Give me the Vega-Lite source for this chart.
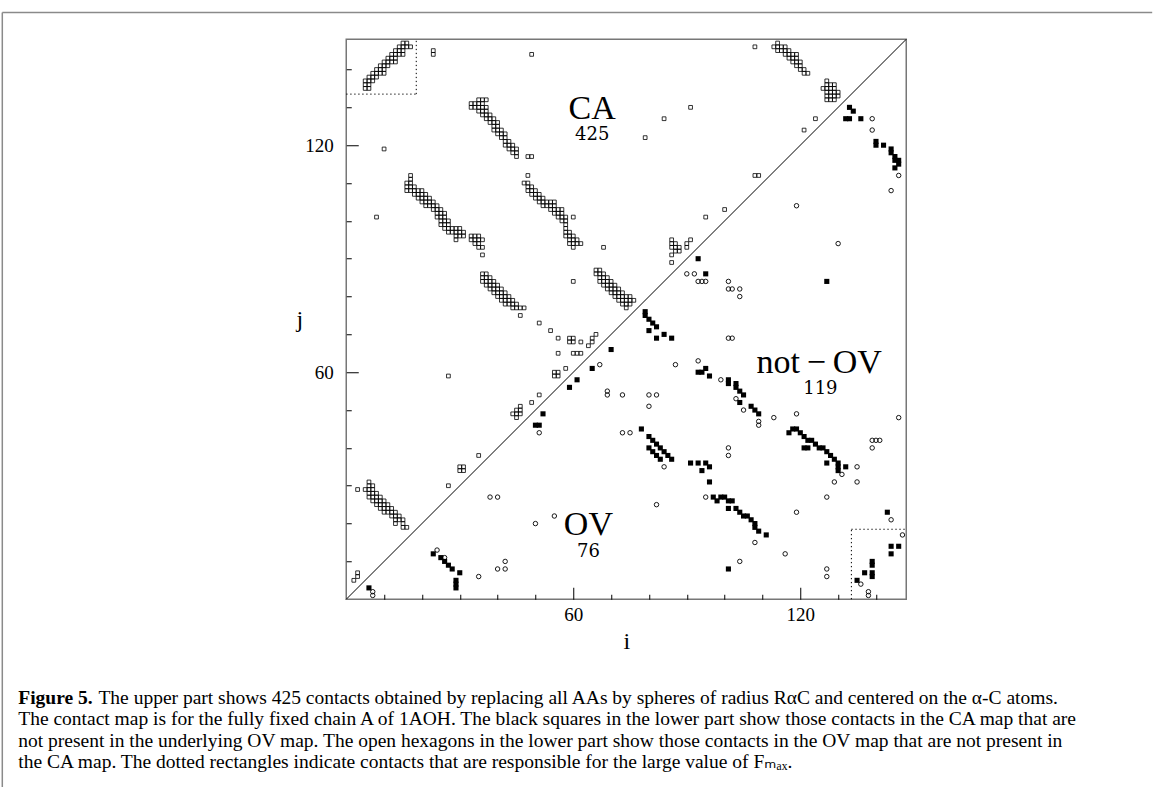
{
  "$schema": "https://vega.github.io/schema/vega-lite/v6.json",
  "width": 560,
  "height": 560,
  "padding": {"left": 1.25, "top": 11.25, "right": 0, "bottom": 0},
  "background": "white",
  "config": {"view": {"stroke": "#777777", "strokeWidth": 1.5}, "font": "Liberation Serif"},
  "title": {
    "text": "Figure 5.",
    "subtitle": [
      "\u2800\u2800\u2800\u2800\u2800 \u2009The upper part shows 425 contacts obtained by replacing all AAs by spheres of radius R\u03b1C and centered on the \u03b1-C atoms.",
      "The contact map is for the fully fixed chain A of 1AOH. The black squares in the lower part show those contacts in the CA map that are",
      "not present in the underlying OV map. The open hexagons in the lower part show those contacts in the OV map that are not present in",
      "the CA map. The dotted rectangles indicate contacts that are responsible for the large value of F\u2098\u2090\u2093."
    ],
    "orient": "bottom",
    "anchor": "start",
    "frame": "group",
    "dx": -328,
    "offset": -99,
    "font": "Liberation Serif",
    "fontSize": 19.5,
    "fontWeight": "bold",
    "color": "black",
    "subtitleFont": "Liberation Serif, DejaVu Sans",
    "subtitleFontSize": 19.5,
    "subtitleColor": "black",
    "subtitleLineHeight": 21.6,
    "subtitlePadding": -19.5
  },
  "datasets": {
    "ca": [
      {"i":15,"j":147},{"i":16,"j":147},{"i":14,"j":146},{"i":15,"j":146},{"i":16,"j":146},{"i":17,"j":146},
      {"i":13,"j":145},{"i":14,"j":145},{"i":15,"j":145},{"i":12,"j":144},{"i":13,"j":144},{"i":14,"j":144},{"i":15,"j":144},
      {"i":11,"j":143},{"i":12,"j":143},{"i":13,"j":143},{"i":10,"j":142},{"i":11,"j":142},{"i":12,"j":142},{"i":13,"j":142},
      {"i":9,"j":141},{"i":10,"j":141},{"i":11,"j":141},{"i":8,"j":140},{"i":9,"j":140},{"i":10,"j":140},
      {"i":7,"j":139},{"i":8,"j":139},{"i":9,"j":139},{"i":10,"j":139},{"i":6,"j":138},{"i":7,"j":138},{"i":8,"j":138},
      {"i":5,"j":137},{"i":6,"j":137},{"i":7,"j":137},{"i":5,"j":136},{"i":6,"j":136},{"i":5,"j":135},{"i":6,"j":135},
      {"i":23,"j":144},{"i":23,"j":145},{"i":49,"j":144},{"i":10,"j":119},
      {"i":35,"j":132},{"i":36,"j":132},{"i":37,"j":132},{"i":33,"j":131},{"i":34,"j":131},{"i":35,"j":131},{"i":36,"j":131},
      {"i":33,"j":130},{"i":34,"j":130},{"i":35,"j":130},{"i":36,"j":130},{"i":37,"j":130},{"i":35,"j":129},{"i":36,"j":129},{"i":37,"j":129},
      {"i":36,"j":128},{"i":37,"j":128},{"i":38,"j":128},{"i":37,"j":127},{"i":38,"j":127},{"i":39,"j":127},
      {"i":38,"j":126},{"i":39,"j":126},{"i":40,"j":126},{"i":39,"j":125},{"i":40,"j":125},
      {"i":39,"j":124},{"i":40,"j":124},{"i":41,"j":124},{"i":40,"j":123},{"i":41,"j":123},{"i":42,"j":123},
      {"i":41,"j":122},{"i":42,"j":122},{"i":42,"j":121},{"i":43,"j":121},{"i":42,"j":120},{"i":43,"j":120},{"i":44,"j":120},
      {"i":43,"j":119},{"i":44,"j":119},{"i":45,"j":119},{"i":44,"j":118},{"i":45,"j":118},{"i":45,"j":117},{"i":48,"j":117},{"i":49,"j":117},
      {"i":48,"j":112},
      {"i":17,"j":112},{"i":17,"j":111},{"i":16,"j":110},{"i":17,"j":110},{"i":16,"j":109},{"i":17,"j":109},{"i":18,"j":109},
      {"i":16,"j":108},{"i":17,"j":108},{"i":18,"j":108},{"i":19,"j":108},{"i":20,"j":108},
      {"i":18,"j":107},{"i":19,"j":107},{"i":20,"j":107},{"i":21,"j":107},{"i":19,"j":106},{"i":20,"j":106},{"i":21,"j":106},{"i":22,"j":106},
      {"i":20,"j":105},{"i":21,"j":105},{"i":22,"j":105},{"i":23,"j":105},{"i":21,"j":104},{"i":22,"j":104},{"i":23,"j":104},{"i":24,"j":104},
      {"i":23,"j":103},{"i":24,"j":103},{"i":25,"j":103},{"i":24,"j":102},{"i":25,"j":102},{"i":26,"j":102},
      {"i":24,"j":101},{"i":25,"j":101},{"i":26,"j":101},{"i":25,"j":100},{"i":26,"j":100},{"i":27,"j":100},
      {"i":25,"j":99},{"i":26,"j":99},{"i":27,"j":99},{"i":26,"j":98},{"i":27,"j":98},{"i":28,"j":98},{"i":29,"j":98},{"i":30,"j":98},
      {"i":27,"j":97},{"i":28,"j":97},{"i":29,"j":97},{"i":30,"j":97},{"i":31,"j":97},{"i":29,"j":96},{"i":30,"j":96},{"i":31,"j":96},{"i":29,"j":95},
      {"i":33,"j":96},{"i":34,"j":96},{"i":35,"j":96},{"i":33,"j":95},{"i":34,"j":95},{"i":35,"j":95},{"i":36,"j":95},
      {"i":34,"j":94},{"i":35,"j":94},{"i":35,"j":93},{"i":36,"j":93},{"i":36,"j":91},
      {"i":36,"j":86},{"i":37,"j":86},{"i":36,"j":85},{"i":37,"j":85},{"i":38,"j":85},
      {"i":36,"j":84},{"i":37,"j":84},{"i":38,"j":84},{"i":39,"j":84},{"i":37,"j":83},{"i":38,"j":83},{"i":39,"j":83},{"i":40,"j":83},
      {"i":38,"j":82},{"i":39,"j":82},{"i":40,"j":82},{"i":41,"j":82},{"i":39,"j":81},{"i":40,"j":81},{"i":41,"j":81},{"i":42,"j":81},
      {"i":40,"j":80},{"i":41,"j":80},{"i":42,"j":80},{"i":43,"j":80},{"i":41,"j":79},{"i":42,"j":79},{"i":43,"j":79},{"i":44,"j":79},
      {"i":42,"j":78},{"i":43,"j":78},{"i":44,"j":78},{"i":45,"j":78},{"i":44,"j":77},{"i":45,"j":77},{"i":46,"j":77},{"i":47,"j":77},
      {"i":46,"j":75},{"i":8,"j":101},{"i":27,"j":59},
      {"i":47,"j":110},{"i":48,"j":110},{"i":48,"j":109},{"i":49,"j":109},{"i":48,"j":108},{"i":49,"j":108},{"i":50,"j":108},
      {"i":49,"j":107},{"i":50,"j":107},{"i":51,"j":107},{"i":50,"j":106},{"i":51,"j":106},{"i":52,"j":106},
      {"i":51,"j":105},{"i":52,"j":105},{"i":53,"j":105},{"i":54,"j":105},{"i":55,"j":105},
      {"i":52,"j":104},{"i":53,"j":104},{"i":54,"j":104},{"i":55,"j":104},{"i":54,"j":103},{"i":55,"j":103},{"i":56,"j":103},{"i":57,"j":103},
      {"i":55,"j":102},{"i":56,"j":102},{"i":57,"j":102},{"i":56,"j":101},{"i":57,"j":101},{"i":58,"j":101},{"i":60,"j":101},
      {"i":57,"j":100},{"i":58,"j":100},{"i":58,"j":99},{"i":58,"j":98},{"i":58,"j":97},{"i":59,"j":97},
      {"i":58,"j":96},{"i":59,"j":96},{"i":60,"j":96},{"i":59,"j":95},{"i":60,"j":95},{"i":61,"j":95},
      {"i":59,"j":94},{"i":60,"j":94},{"i":61,"j":94},{"i":62,"j":94},{"i":60,"j":93},
      {"i":68,"j":93},{"i":60,"j":84},{"i":95,"j":101},
      {"i":66,"j":87},{"i":67,"j":87},{"i":66,"j":86},{"i":67,"j":86},{"i":68,"j":86},{"i":67,"j":85},{"i":68,"j":85},{"i":69,"j":85},
      {"i":67,"j":84},{"i":68,"j":84},{"i":69,"j":84},{"i":70,"j":84},{"i":68,"j":83},{"i":69,"j":83},{"i":70,"j":83},{"i":71,"j":83},
      {"i":69,"j":82},{"i":70,"j":82},{"i":71,"j":82},{"i":72,"j":82},{"i":70,"j":81},{"i":71,"j":81},{"i":72,"j":81},{"i":73,"j":81},
      {"i":71,"j":80},{"i":72,"j":80},{"i":73,"j":80},{"i":74,"j":80},{"i":75,"j":80},
      {"i":72,"j":79},{"i":73,"j":79},{"i":74,"j":79},{"i":75,"j":79},{"i":76,"j":79},{"i":73,"j":78},{"i":74,"j":78},{"i":75,"j":78},{"i":74,"j":77},
      {"i":86,"j":95},{"i":86,"j":94},{"i":87,"j":94},{"i":86,"j":93},{"i":87,"j":93},{"i":88,"j":93},{"i":87,"j":92},{"i":88,"j":92},
      {"i":90,"j":94},{"i":91,"j":95},{"i":90,"j":93},{"i":86,"j":91},{"i":86,"j":89},
      {"i":51,"j":73},{"i":54,"j":71},{"i":56,"j":69},{"i":59,"j":69},{"i":60,"j":69},{"i":59,"j":68},{"i":60,"j":68},{"i":62,"j":68},
      {"i":64,"j":67},{"i":65,"j":69},{"i":66,"j":70},{"i":65,"j":68},{"i":56,"j":65},{"i":60,"j":65},{"i":61,"j":65},{"i":62,"j":65},
      {"i":58,"j":61},{"i":55,"j":60},{"i":56,"j":60},{"i":55,"j":59},{"i":56,"j":59},{"i":51,"j":54},{"i":49,"j":52},
      {"i":44,"j":49},{"i":45,"j":48},{"i":45,"j":50},{"i":46,"j":50},{"i":45,"j":49},{"i":46,"j":49},{"i":46,"j":51},
      {"i":35,"j":38},{"i":30,"j":35},{"i":31,"j":35},{"i":30,"j":34},{"i":31,"j":34},{"i":27,"j":30},{"i":2,"j":5},{"i":3,"j":6},{"i":3,"j":7},
      {"i":6,"j":31},{"i":6,"j":30},{"i":7,"j":30},{"i":3,"j":29},{"i":5,"j":29},{"i":6,"j":29},{"i":7,"j":29},
      {"i":6,"j":28},{"i":7,"j":28},{"i":8,"j":28},{"i":6,"j":27},{"i":7,"j":27},{"i":8,"j":27},{"i":9,"j":27},
      {"i":7,"j":26},{"i":8,"j":26},{"i":9,"j":26},{"i":10,"j":26},{"i":8,"j":25},{"i":9,"j":25},{"i":10,"j":25},{"i":11,"j":25},
      {"i":9,"j":24},{"i":10,"j":24},{"i":11,"j":24},{"i":12,"j":24},{"i":10,"j":23},{"i":11,"j":23},{"i":12,"j":23},{"i":13,"j":23},
      {"i":12,"j":22},{"i":13,"j":22},{"i":14,"j":22},{"i":13,"j":21},{"i":14,"j":21},{"i":15,"j":21},{"i":13,"j":20},{"i":15,"j":20},
      {"i":15,"j":19},{"i":16,"j":19},
      {"i":108,"j":146},{"i":114,"j":147},{"i":113,"j":146},{"i":114,"j":146},{"i":115,"j":146},{"i":116,"j":146},
      {"i":114,"j":145},{"i":115,"j":145},{"i":116,"j":145},{"i":117,"j":145},{"i":116,"j":144},{"i":117,"j":144},{"i":118,"j":144},{"i":119,"j":144},
      {"i":117,"j":143},{"i":118,"j":143},{"i":119,"j":143},{"i":118,"j":142},{"i":119,"j":142},{"i":120,"j":142},
      {"i":119,"j":141},{"i":120,"j":141},{"i":120,"j":140},{"i":121,"j":140},{"i":121,"j":139},{"i":122,"j":139},
      {"i":127,"j":137},{"i":127,"j":136},{"i":128,"j":136},{"i":129,"j":136},{"i":126,"j":135},{"i":127,"j":135},{"i":128,"j":135},{"i":129,"j":135},
      {"i":127,"j":134},{"i":128,"j":134},{"i":129,"j":134},{"i":130,"j":134},{"i":127,"j":133},{"i":128,"j":133},{"i":129,"j":133},{"i":130,"j":133},
      {"i":127,"j":132},{"i":128,"j":132},{"i":129,"j":132},
      {"i":124,"j":127},{"i":121,"j":124},{"i":108,"j":112},{"i":109,"j":112},{"i":100,"j":103},{"i":91,"j":130},{"i":84,"j":127},{"i":79,"j":122}
    ],
    "nov": [
      {"i":133,"j":130},{"i":134,"j":129},{"i":132,"j":127},{"i":133,"j":127},{"i":136,"j":127},
      {"i":140,"j":121},{"i":140,"j":120},{"i":142,"j":120},
      {"i":144,"j":119},{"i":144,"j":118},{"i":145,"j":117},{"i":146,"j":116},{"i":145,"j":116},{"i":146,"j":115},{"i":145,"j":114},
      {"i":127,"j":84},{"i":93,"j":90},{"i":95,"j":86},
      {"i":79,"j":76},{"i":79,"j":75},{"i":80,"j":74},{"i":81,"j":73},{"i":82,"j":72},{"i":80,"j":71},{"i":82,"j":69},{"i":84,"j":70},{"i":86,"j":69},
      {"i":70,"j":66},{"i":65,"j":61},{"i":61,"j":58},{"i":59,"j":56},
      {"i":93,"j":60},{"i":94,"j":60},{"i":95,"j":61},{"i":96,"j":59},
      {"i":101,"j":58},{"i":101,"j":57},{"i":103,"j":57},{"i":103,"j":56},{"i":104,"j":55},{"i":105,"j":54},{"i":104,"j":52},{"i":107,"j":51},{"i":108,"j":50},{"i":109,"j":49},
      {"i":117,"j":44},{"i":118,"j":45},{"i":119,"j":45},{"i":120,"j":44},{"i":121,"j":43},{"i":122,"j":42},{"i":123,"j":42},{"i":124,"j":41},
      {"i":121,"j":40},{"i":122,"j":40},{"i":125,"j":40},{"i":126,"j":40},{"i":127,"j":39},{"i":128,"j":38},{"i":129,"j":37},{"i":127,"j":36},
      {"i":130,"j":36},{"i":130,"j":35},{"i":130,"j":34},{"i":132,"j":35},
      {"i":97,"j":27},{"i":98,"j":26},{"i":99,"j":27},{"i":100,"j":27},{"i":101,"j":26},{"i":102,"j":26},{"i":101,"j":24},{"i":103,"j":24},
      {"i":104,"j":23},{"i":105,"j":22},{"i":106,"j":22},{"i":107,"j":21},{"i":108,"j":20},{"i":108,"j":19},{"i":109,"j":18},{"i":111,"j":17},
      {"i":91,"j":36},{"i":93,"j":36},{"i":95,"j":36},{"i":96,"j":35},{"i":94,"j":34},{"i":96,"j":31},
      {"i":78,"j":45},{"i":80,"j":43},{"i":81,"j":42},{"i":82,"j":41},{"i":83,"j":40},{"i":84,"j":39},{"i":85,"j":38},{"i":86,"j":37},
      {"i":80,"j":40},{"i":81,"j":39},{"i":82,"j":38},{"i":83,"j":37},
      {"i":52,"j":49},{"i":50,"j":46},{"i":51,"j":46},
      {"i":6,"j":3},{"i":23,"j":12},{"i":25,"j":11},{"i":26,"j":10},{"i":27,"j":9},{"i":28,"j":8},{"i":30,"j":7},{"i":29,"j":5},{"i":29,"j":4},{"i":29,"j":3},
      {"i":143,"j":23},{"i":144,"j":14},{"i":146,"j":14},{"i":144,"j":12},{"i":139,"j":10},{"i":139,"j":9},{"i":139,"j":7},{"i":139,"j":6},{"i":137,"j":7},{"i":135,"j":5},{"i":101,"j":8}
    ],
    "ov": [
      {"i":139,"j":127},{"i":139,"j":124},{"i":146,"j":112},{"i":144,"j":108},
      {"i":119,"j":104},{"i":130,"j":94},{"i":101,"j":84},{"i":101,"j":82},{"i":102,"j":82},{"i":104,"j":82},{"i":104,"j":80},{"i":101,"j":69},{"i":102,"j":69},{"i":99,"j":58},
      {"i":90,"j":86},{"i":92,"j":86},{"i":93,"j":84},{"i":94,"j":84},{"i":95,"j":84},{"i":67,"j":62},{"i":69,"j":55},{"i":69,"j":54},{"i":73,"j":54},{"i":80,"j":54},{"i":82,"j":54},{"i":87,"j":62},{"i":93,"j":63},
      {"i":51,"j":44},{"i":73,"j":44},{"i":75,"j":44},{"i":80,"j":51},{"i":84,"j":35},{"i":95,"j":27},{"i":82,"j":25},{"i":50,"j":20},{"i":55,"j":22},
      {"i":103,"j":53},{"i":105,"j":50},{"i":109,"j":47},{"i":109,"j":46},{"i":113,"j":48},{"i":119,"j":49},{"i":146,"j":48},{"i":101,"j":40},{"i":101,"j":38},
      {"i":135,"j":35},{"i":131,"j":33},{"i":129,"j":31},{"i":135,"j":31},{"i":127,"j":27},{"i":139,"j":42},{"i":140,"j":42},{"i":141,"j":42},{"i":139,"j":40},
      {"i":119,"j":23},{"i":108,"j":15},{"i":104,"j":10},{"i":116,"j":12},{"i":127,"j":8},{"i":127,"j":6},{"i":144,"j":21},{"i":147,"j":17},{"i":136,"j":4},{"i":138,"j":2},{"i":138,"j":1},
      {"i":7,"j":2},{"i":7,"j":1},{"i":24,"j":13},{"i":26,"j":11},{"i":35,"j":6},{"i":40,"j":8},{"i":42,"j":10},{"i":42,"j":8},{"i":38,"j":27},{"i":40,"j":27}
    ],
    "segs": [
      {"kind":"diagonal","x":0,"y":0,"x2":148,"y2":148},
      {"kind":"dotted","x":18.5,"y":133.5,"x2":18.5,"y2":148},
      {"kind":"dotted","x":0,"y":133.5,"x2":18.5,"y2":133.5},
      {"kind":"dotted","x":133.5,"y":0,"x2":133.5,"y2":18.5},
      {"kind":"dotted","x":133.5,"y":18.5,"x2":148,"y2":18.5},
      {"kind":"frame","x":-90.9,"y":155.1,"x2":213,"y2":155.1},
      {"kind":"frame","x":-90.9,"y":155.1,"x2":-90.9,"y2":-49.6}
    ],
    "labels": [
      {"kind":"name","x":65,"y":129.5,"text":"CA"},
      {"kind":"count","x":65,"y":122.6,"text":"425"},
      {"kind":"name","x":125,"y":62.5,"text":"not\u2009\u2212\u2009OV"},
      {"kind":"count","x":125.3,"y":55.5,"text":"119"},
      {"kind":"name","x":64,"y":19.5,"text":"OV"},
      {"kind":"count","x":64,"y":12.4,"text":"76"}
    ]
  },
  "layer": [
    {
      "data": {"name": "segs"},
      "transform": [{"filter": "datum.kind === 'diagonal'"}],
      "mark": {"type": "rule", "color": "black", "strokeWidth": 1},
      "encoding": {
        "x": {
          "field": "x", "type": "quantitative",
          "scale": {"domain": [0, 148], "nice": false, "zero": false},
          "axis": {
            "values": [10,20,30,40,50,60,70,80,90,100,110,120,130,140],
            "labelExpr": "datum.value % 60 === 0 ? datum.label : ''",
            "tickSize": {"condition": {"test": "datum.value % 60 === 0", "value": -12}, "value": -5},
            "tickColor": "black", "tickWidth": 1,
            "domain": false, "grid": false,
            "labelFont": "Liberation Serif", "labelFontSize": 19, "labelColor": "black",
            "labelPadding": 18, "labelOverlap": false, "labelFlush": false,
            "title": "i", "titleFont": "Liberation Serif", "titleFontSize": 24, "titleFontWeight": "normal",
            "titleColor": "black", "titlePadding": -2
          }
        },
        "y": {
          "field": "y", "type": "quantitative",
          "scale": {"domain": [0, 148], "nice": false, "zero": false},
          "axis": {
            "values": [10,20,30,40,50,60,70,80,90,100,110,120,130,140],
            "labelExpr": "datum.value % 60 === 0 ? datum.label : ''",
            "tickSize": {"condition": {"test": "datum.value % 60 === 0", "value": -12}, "value": -5},
            "tickColor": "black", "tickWidth": 1,
            "domain": false, "grid": false,
            "labelFont": "Liberation Serif", "labelFontSize": 19, "labelColor": "black",
            "labelPadding": 25, "labelOverlap": false, "labelFlush": false,
            "title": "j", "titleFont": "Liberation Serif", "titleFontSize": 24, "titleFontWeight": "normal",
            "titleColor": "black", "titleAngle": 0, "titleAlign": "right", "titleBaseline": "middle", "titlePadding": 2
          }
        },
        "x2": {"field": "x2"},
        "y2": {"field": "y2"}
      }
    },
    {
      "data": {"name": "segs"},
      "transform": [{"filter": "datum.kind === 'frame'"}],
      "mark": {"type": "rule", "color": "#8a8a8a", "strokeWidth": 1.5},
      "encoding": {
        "x": {"field": "x", "type": "quantitative"},
        "y": {"field": "y", "type": "quantitative"},
        "x2": {"field": "x2"},
        "y2": {"field": "y2"}
      }
    },
    {
      "data": {"name": "segs"},
      "transform": [{"filter": "datum.kind === 'dotted'"}],
      "mark": {"type": "rule", "color": "black", "strokeWidth": 1, "strokeDash": [1.3, 2.7]},
      "encoding": {
        "x": {"field": "x", "type": "quantitative"},
        "y": {"field": "y", "type": "quantitative"},
        "x2": {"field": "x2"},
        "y2": {"field": "y2"}
      }
    },
    {
      "data": {"name": "ca"},
      "mark": {"type": "point", "shape": "square", "size": 14, "filled": false, "stroke": "black", "strokeWidth": 0.8, "opacity": 1},
      "encoding": {
        "x": {"field": "i", "type": "quantitative"},
        "y": {"field": "j", "type": "quantitative"}
      }
    },
    {
      "data": {"name": "nov"},
      "mark": {"type": "point", "shape": "square", "size": 26, "filled": true, "color": "black", "opacity": 1},
      "encoding": {
        "x": {"field": "i", "type": "quantitative"},
        "y": {"field": "j", "type": "quantitative"}
      }
    },
    {
      "data": {"name": "ov"},
      "mark": {"type": "point", "shape": "circle", "size": 20, "filled": false, "stroke": "black", "strokeWidth": 0.9, "opacity": 1},
      "encoding": {
        "x": {"field": "i", "type": "quantitative"},
        "y": {"field": "j", "type": "quantitative"}
      }
    },
    {
      "data": {"name": "labels"},
      "transform": [{"filter": "datum.kind === 'name'"}],
      "mark": {"type": "text", "font": "Liberation Serif", "fontSize": 34, "color": "black", "align": "center", "baseline": "middle"},
      "encoding": {
        "x": {"field": "x", "type": "quantitative"},
        "y": {"field": "y", "type": "quantitative"},
        "text": {"field": "text"}
      }
    },
    {
      "data": {"name": "labels"},
      "transform": [{"filter": "datum.kind === 'count'"}],
      "mark": {"type": "text", "font": "DejaVu Serif", "fontSize": 18, "color": "black", "align": "center", "baseline": "middle"},
      "encoding": {
        "x": {"field": "x", "type": "quantitative"},
        "y": {"field": "y", "type": "quantitative"},
        "text": {"field": "text"}
      }
    }
  ]
}
